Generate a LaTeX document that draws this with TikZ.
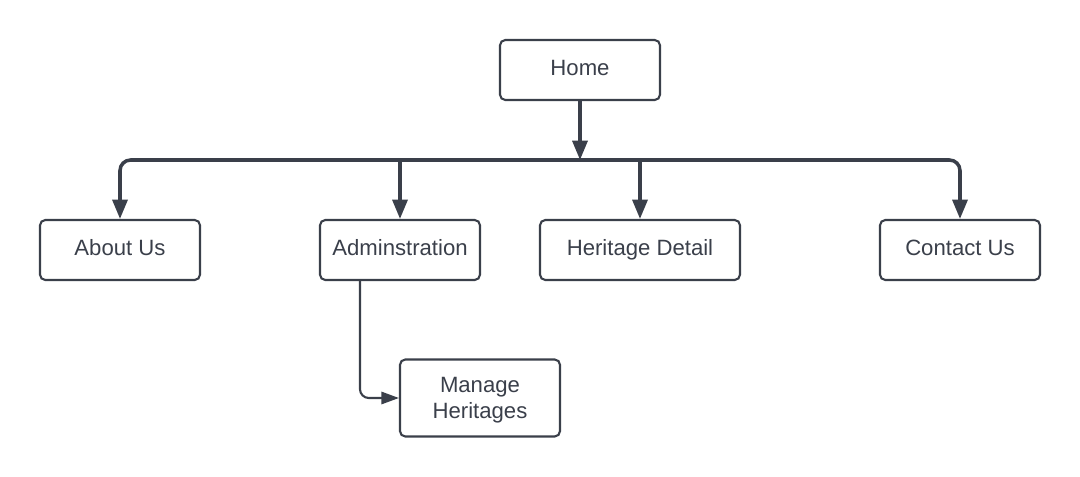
\documentclass[tikz,border=0pt]{standalone}
\usepackage{fontspec}
\setmainfont{Liberation Sans}
\usetikzlibrary{positioning,arrows.meta}
\definecolor{linegray}{HTML}{3A3F4A}

\begin{document}
\begin{tikzpicture}[x=0.02cm,y=-0.02cm,
        page/.style={rectangle,draw=linegray,line width=1.2pt,rounded corners=3pt,
            minimum width=3.2cm,minimum height=1.2cm,text=linegray,align=center,
            text height=9.4pt,text depth=3.6pt,
            font=\fontsize{12.6}{15}\selectfont},
        busarrow/.style={draw=linegray,line width=2pt,rounded corners=6pt,
            -{Triangle[length=11pt,width=8.5pt]}},
        subarrow/.style={draw=linegray,line width=1.2pt,rounded corners=5pt,
            -{Triangle[length=10pt,width=7pt]}}]
        \useasboundingbox (0,0) rectangle (1080,477);

        \node[page] (home) at (580,70) {Home};

        \node[page] (about) at (120,250) {About Us};
        \node[page] (admin) at (400,250) {Adminstration};
        \node[page,minimum width=4cm] (detail) at (640,250) {Heritage Detail};
        \node[page] (contact) at (960,250) {Contact Us};

        \node[page,minimum height=1.54cm,text height=,text depth=0pt] (manage) at (480,398) {Manage\\Heritages};

        \coordinate (bus) at (580,160);

        \draw[busarrow] (home.south) -- (bus);
        \draw[busarrow] (bus) -| (about.north);
        \draw[busarrow] (bus) -| (contact.north);
        \draw[busarrow] (admin.north |- bus) -- (admin.north);
        \draw[busarrow] (detail.north |- bus) -- (detail.north);

        \draw[subarrow] ([xshift=-0.8cm]admin.south) |- (manage.west);

    \end{tikzpicture}
\end{document}
